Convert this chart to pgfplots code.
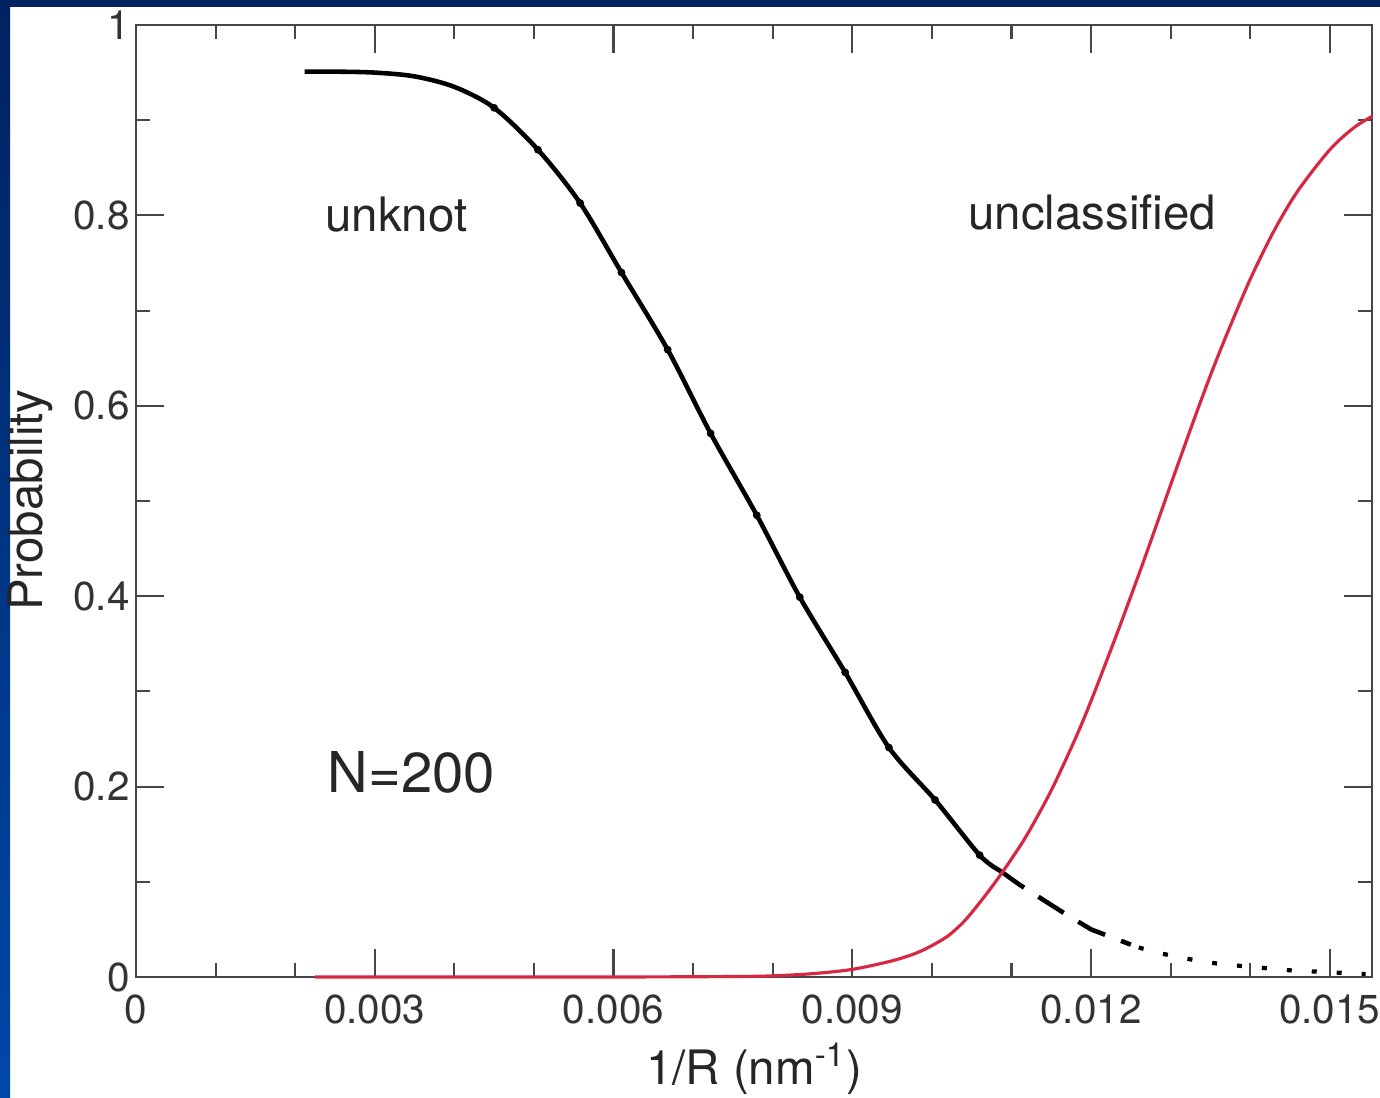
\documentclass[border=0pt]{standalone}
\usepackage{fontspec}
\setmainfont{TeX Gyre Heros}
\usepackage{pgfplots}
\pgfplotsset{compat=1.18}
\definecolor{navy}{RGB}{0,34,96}
\definecolor{frameblue}{RGB}{0,72,168}
\definecolor{curvered}{RGB}{214,40,66}
\definecolor{axisgray}{RGB}{70,70,70}
\begin{document}
\begin{tikzpicture}[x=1mm,y=1mm]
\useasboundingbox (0,0) rectangle (138,109.7);
\fill[white] (0,0) rectangle (138,109.7);
\shade[top color=navy, bottom color=frameblue] (0,0) rectangle (1.0,109.7);
\fill[navy] (0,109.0) rectangle (138,109.7);
\begin{axis}[
  at={(13.6mm,12.0mm)}, anchor=south west,
  scale only axis, width=123.6mm, height=95.2mm,
  xmin=0, xmax=0.01553, ymin=0, ymax=1,
  scaled x ticks=false, scaled y ticks=false,
  axis line style={axisgray, line width=0.8pt},
  xtick={0,0.003,0.006,0.009,0.012,0.015},
  xticklabels={0,0.003,0.006,0.009,0.012,0.015},
  ytick={0,0.2,0.4,0.6,0.8,1},
  yticklabels={0,0.2,0.4,0.6,0.8,1},
  minor x tick num=2, minor y tick num=1,
  tick align=inside, tick pos=both,
  major tick length=2.8mm, minor tick length=1.4mm,
  every tick/.style={axisgray, line width=0.6pt},
  tick label style={font=\fontsize{11.5}{13}\selectfont, text=black!80},
  xticklabel style={yshift=-0.5mm},
  yticklabel style={xshift=0.6mm},
  clip=false,
]
% unknot probability (solid)
\addplot[black, line width=1.3pt, smooth, tension=0.5] coordinates {
 (0.00212,0.951) (0.0025,0.951) (0.0030,0.950) (0.0035,0.946) (0.0040,0.935)
 (0.0045,0.913) (0.00505,0.869) (0.00558,0.813) (0.0061,0.740) (0.00668,0.659)
 (0.00722,0.571) (0.0078,0.485) (0.00834,0.399) (0.00891,0.320) (0.00946,0.241)
 (0.01004,0.186) (0.0106,0.128) (0.01085,0.112)
};
% markers on unknot curve
\addplot[only marks, mark=*, mark size=0.9pt, black] coordinates {
 (0.0045,0.913) (0.00505,0.869) (0.00558,0.813) (0.0061,0.740) (0.00668,0.659)
 (0.00722,0.571) (0.0078,0.485) (0.00834,0.399) (0.00891,0.320) (0.00946,0.241)
 (0.01004,0.186) (0.0106,0.128)
};
% dashed continuation
\addplot[black, line width=1.3pt, dash pattern=on 3mm off 1.7mm] coordinates {
 (0.01085,0.112) (0.0111,0.097) (0.0114,0.081) (0.0117,0.065) (0.0120,0.050) (0.0125,0.034)
};
% dotted continuation
\addplot[black, line width=1.2pt, dash pattern=on 0.5mm off 2.0mm] coordinates {
 (0.0126,0.031) (0.0128,0.026) (0.0131,0.021) (0.0134,0.016) (0.0137,0.013)
 (0.0141,0.010) (0.0145,0.007) (0.0150,0.005) (0.01545,0.003)
};
% unclassified probability (red)
\addplot[curvered, line width=0.9pt, smooth, tension=0.5] coordinates {
 (0.00225,0) (0.004,0) (0.006,0) (0.0075,0.0005) (0.008,0.0012) (0.0085,0.0035)
 (0.009,0.008) (0.0095,0.017) (0.0098,0.025) (0.0100,0.033) (0.0102,0.043)
 (0.0104,0.058) (0.0106,0.078) (0.0108,0.100) (0.0110,0.124) (0.0112,0.150)
 (0.0115,0.196) (0.0118,0.250) (0.0120,0.290) (0.0123,0.355) (0.0125,0.400)
 (0.0127,0.446) (0.0130,0.517) (0.0133,0.587) (0.0135,0.632) (0.0137,0.674)
 (0.0140,0.733) (0.0143,0.784) (0.0146,0.826) (0.0150,0.869) (0.0153,0.892)
 (0.01553,0.904)
};
\node[anchor=base west, inner sep=0pt, font=\fontsize{13.5}{15}\selectfont, text=black!85] at (axis cs:0.00237,0.783) {unknot};
\node[anchor=base west, inner sep=0pt, font=\fontsize{13.5}{15}\selectfont, text=black!85] at (axis cs:0.01045,0.785) {unclassified};
\node[anchor=base west, inner sep=0pt, font=\fontsize{16}{18}\selectfont, text=black!85] at (axis cs:0.0024,0.194) {N=200};
\node[rotate=90, anchor=center, font=\fontsize{13.5}{15}\selectfont, text=black!85] at (axis description cs:-0.0858,0.501) {Probability};
\node[anchor=base, font=\fontsize{13.5}{15}\selectfont, text=black!85] at (axis description cs:0.5,-0.1134) {1/R (nm\textsuperscript{-1})};
\end{axis}
\end{tikzpicture}
\end{document}
